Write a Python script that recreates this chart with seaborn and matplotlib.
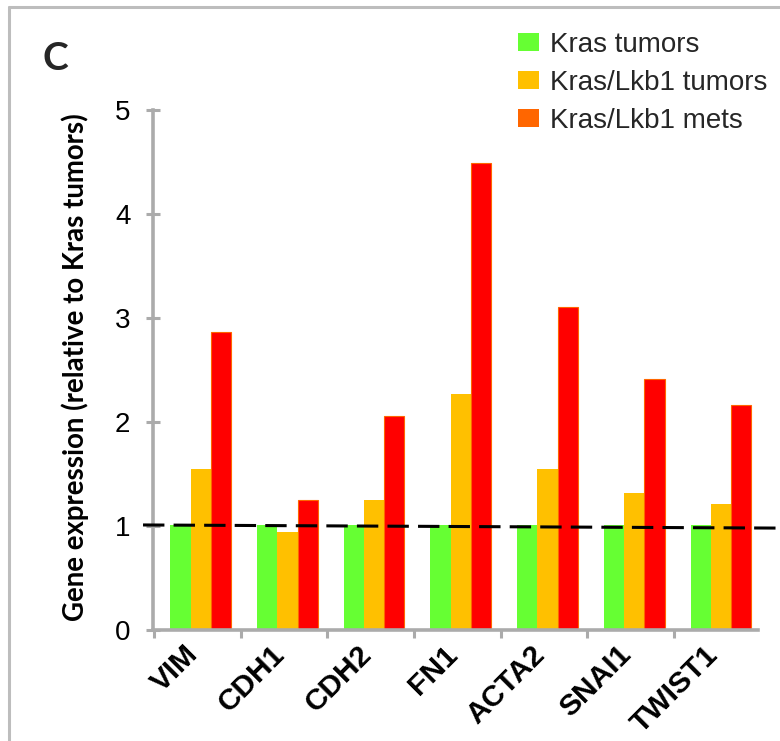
import numpy as np
import pandas as pd
import matplotlib
matplotlib.use("Agg")
import matplotlib.pyplot as plt
import seaborn as sns
from matplotlib.patches import Patch
from matplotlib.lines import Line2D
from matplotlib.transforms import ScaledTranslation

# ---------------- data ----------------
genes = ["VIM", "CDH1", "CDH2", "FN1", "ACTA2", "SNAI1", "TWIST1"]
series = ["Kras tumors", "Kras/Lkb1 tumors", "Kras/Lkb1 mets"]
kras_tumors = [1.01, 1.01, 1.01, 1.01, 1.01, 1.01, 1.01]
kras_lkb1_tumors = [1.55, 0.94, 1.25, 2.27, 1.55, 1.32, 1.21]
kras_lkb1_mets = [2.87, 1.25, 2.06, 4.49, 3.11, 2.41, 2.16]
y_ticks = [0, 1, 2, 3, 4, 5]
ref_line = [1.01, 0.98]   # dashed reference line (relative level 1)

bar_colors = ["#66FF33", "#FFC000", "#FF0000"]
legend_colors = ["#66FF33", "#FFC000", "#FF6600"]

df = pd.DataFrame({
    "gene": genes * 3,
    "group": np.repeat(series, len(genes)),
    "value": kras_tumors + kras_lkb1_tumors + kras_lkb1_mets,
})

sns.set_theme(style="white")
plt.rcParams['font.family'] = ['Liberation Sans', 'DejaVu Sans']

W, H = 780, 741
fig = plt.figure(figsize=(W / 100, H / 100), dpi=100)
ax = fig.add_axes([153 / W, 111 / H, (758 - 153) / W, 520 / H])

sns.barplot(data=df, x="gene", y="value", hue="group", order=genes,
            hue_order=series, palette=bar_colors, width=0.70, saturation=1,
            errorbar=None, legend=False, linewidth=0, ax=ax)

for p in ax.patches:
    fc = p.get_facecolor()
    if abs(fc[0] - 1) < 1e-3 and fc[1] < 0.01 and fc[2] < 0.01:
        p.set_edgecolor("#FF6600")
        p.set_linewidth(0.8)

ax.set_xlim(-0.55, 6.428)
ax.set_ylim(0, 5)

# dashed reference line
ax.plot([-0.665, 6.647], ref_line, color="black", lw=2.2, dashes=(7, 3),
        clip_on=False, zorder=5)

# spines
spine_col = "#ABABAB"
for s in ["top", "right"]:
    ax.spines[s].set_visible(False)
for s in ["left", "bottom"]:
    ax.spines[s].set_color(spine_col)
    ax.spines[s].set_linewidth(2.6)

# y ticks
ax.set_yticks(y_ticks)
ax.set_yticklabels([str(t) for t in y_ticks], fontsize=20, color="black")
ax.tick_params(axis="y", direction="inout", length=9.4, width=2.2,
               color=spine_col, pad=11.5, left=True)

# x ticks
ax.set_xticks(range(len(genes)))
ax.set_xticklabels(genes, rotation=45, ha="right", va="top",
                   rotation_mode="anchor", fontsize=21.5, fontweight="bold",
                   color="black")
ax.tick_params(axis="x", which="major", length=0, pad=7.5, bottom=True)
ax.set_xticks(np.arange(len(genes)) - 0.54, minor=True)
ax.tick_params(axis="x", which="minor", direction="out", length=5.8,
               width=2.2, color=spine_col, bottom=True)
off = ScaledTranslation(-17 / 100, 0, fig.dpi_scale_trans)
for lab in ax.get_xticklabels():
    lab.set_transform(lab.get_transform() + off)

ax.set_xlabel("")

# y label, fitted to its length in the reference
ylab = ax.set_ylabel("Gene expression (relative to Kras tumors)",
                     fontweight="bold", family=["Lato", "DejaVu Sans"],
                     fontsize=17, color="black")
ax.yaxis.set_label_coords((89 - 153) / (758 - 153), (630 - 367) / 520)
fig.canvas.draw()
ext = ylab.get_window_extent()
ylab.set_fontsize(17 * 509 / ext.height)

# panel letter
fig.text(43 / W, 1 - 70 / H, "C", fontsize=28, fontweight="bold",
         family=["Lato", "DejaVu Sans"], ha="left", va="baseline")

# legend
handles = [Patch(facecolor=c, edgecolor="none") for c in legend_colors]
fig.legend(handles, series, loc="upper left",
           bbox_to_anchor=(518 / W, 1 - 32 / H), frameon=False, fontsize=20,
           handlelength=0.755, handleheight=0.61, handletextpad=0.4,
           labelspacing=0.43, borderpad=0, borderaxespad=0)

# outer panel border (left and top)
bcol = "#BDBDBD"
fig.add_artist(Line2D([9 / W, 9 / W], [0, 1 - 7 / H], transform=fig.transFigure,
                      color=bcol, lw=2.2))
fig.add_artist(Line2D([9 / W, 1], [1 - 7 / H, 1 - 7 / H],
                      transform=fig.transFigure, color=bcol, lw=2.2))

fig.savefig("out.png", dpi=100)
